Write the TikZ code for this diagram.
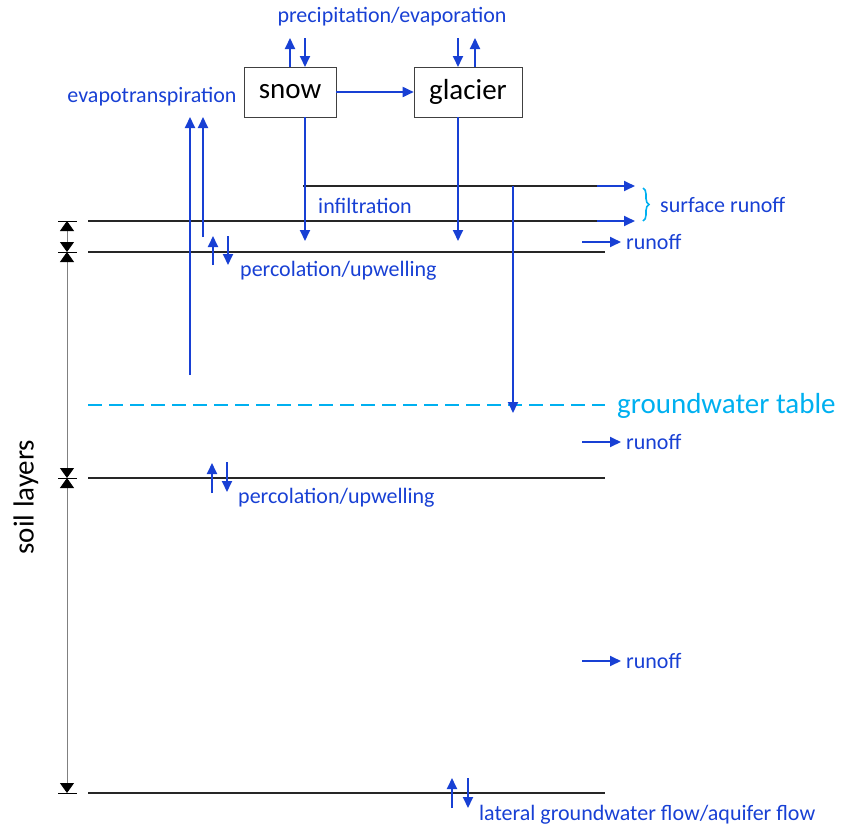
\documentclass[tikz,border=0pt]{standalone}
\usepackage{fontspec}
\setmainfont{Carlito}
\usetikzlibrary{arrows.meta,positioning,decorations.pathreplacing,calc}
\definecolor{flow}{RGB}{24,64,212}
\definecolor{gwt}{RGB}{0,176,240}
\tikzset{
  store/.style={rectangle, draw=black!75, semithick, fill=white, minimum height=50pt,
                inner sep=0pt, font=\fontsize{29}{33}\selectfont},
  layer/.style={line width=1.8pt, black!85},
  fl/.style={-{Triangle[length=11pt,width=10pt]}, line width=1.8pt, flow},
  lbl/.style={font=\fontsize{22}{26}\selectfont, text=flow, inner sep=0pt},
  dimln/.style={{Triangle[length=10pt,width=14pt,black]}-{Triangle[length=10pt,width=14pt,black]}, gray, line width=0.8pt},
  tick/.style={line width=1pt, black},
}

\begin{document}
\begin{tikzpicture}[x=1pt,y=-1pt]
\useasboundingbox (0,0) rectangle (847,828);
\node[store, minimum width=92pt] (snow) at (290,92) {snow};
\node[store, minimum width=108pt] (glacier) at (468,92) {glacier};
\draw[fl] (snow) -- (glacier);

\coordinate (s0) at (303,186); \coordinate (s1) at (605,186);
\draw[layer] (s0) -- (s1);
\foreach \y/\n in {221/a,252/b,478/c,793/d} {
  \coordinate (\n l) at (88,\y); \coordinate (\n r) at (605,\y);
  \draw[layer] (\n l) -- (\n r);
  \coordinate (\n t0) at (58,\y); \coordinate (\n t1) at (77,\y);
  \draw[tick] (\n t0) -- (\n t1);
  \coordinate (\n d) at (67,\y);
}
\draw[dimln] (ad) -- (bd);
\draw[dimln] (bd) -- (cd);
\draw[dimln] (cd) -- (dd);

\coordinate (gl) at (88,405); \coordinate (gr) at (605,405);
\draw[gwt, line width=1.8pt, dash pattern=on 14pt off 7pt] (gl) -- (gr);

\foreach \n/\xa/\ya/\xb/\yb in {snowup/290/67/290/38, snowdn/305/38/305/67,
  glcdn/458/38/458/67, glcup/475/67/475/38,
  infa/305/117/305/241, infb/458/117/458/241,
  eta/190/375/190/117, etb/203/237/203/117, gw/513/186/513/413,
  sra/597/186/635/186, srb/597/221/635/221,
  roa/582/242/621/242, rob/582/442/621/442, roc/582/661/621/661,
  pau/213/265/213/236, pad/228/236/228/265,
  pbu/212/493/212/463, pbd/227/462/227/492,
  lgu/452/808/452/778, lgd/468/778/468/808} {
  \coordinate (\n0) at (\xa,\ya);
  \coordinate (\n1) at (\xb,\yb);
  \draw[fl] (\n0) -- (\n1);
}

\coordinate (bra) at (643,188); \coordinate (brb) at (643,221);
\draw[gwt, line width=1.6pt, decorate, decoration={brace,amplitude=6pt}] (bra) -- (brb);

\node[lbl] (precip) at (392,17) {precipitation/evaporation};
\node[lbl] (evapo) at (152,97) {evapotranspiration};
\node[lbl] (infil) at (365,206) {infiltration};
\node[lbl, anchor=west] (surf) at (660,205) {surface runoff};
\foreach \y/\n in {242/a,442/b,661/c}
  \node[lbl, anchor=west] (runoff\n) at (626,\y) {runoff};
\node[lbl, anchor=west] (perca) at (240,271) {percolation/upwelling};
\node[lbl, anchor=west] (percb) at (238,498) {percolation/upwelling};
\node[lbl, anchor=west] (lat) at (479,815) {lateral groundwater flow/aquifer flow};
\node[lbl, anchor=west, text=gwt, font=\fontsize{29}{33}\selectfont] (gwtable) at (617,406) {groundwater table};
\node[inner sep=0pt, rotate=90, font=\fontsize{29}{33}\selectfont] (soil) at (26,497) {soil layers};
\end{tikzpicture}
\end{document}
